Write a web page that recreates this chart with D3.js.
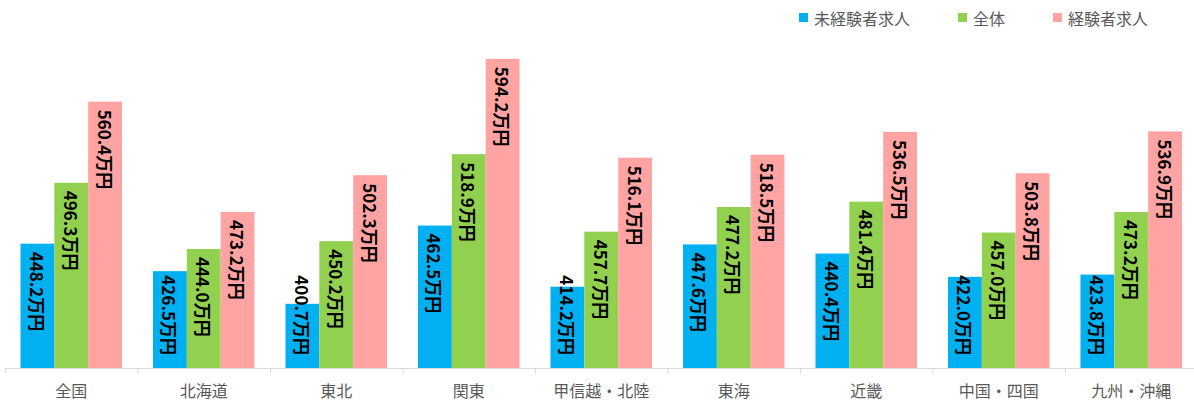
<!DOCTYPE html>
<html>
<head>
<meta charset="utf-8">
<script src="https://cdn.jsdelivr.net/npm/d3@7"></script>
<style>
  body { margin: 0; background: #fff; }
  svg { display: block; font-family: "Noto Sans CJK JP", "Noto Sans", sans-serif; }
</style>
</head>
<body>
<div id="chart"></div>
<script>
var categories = ["全国", "北海道", "東北", "関東", "甲信越・北陸", "東海", "近畿", "中国・四国", "九州・沖縄"];
var seriesNames = ["未経験者求人", "全体", "経験者求人"];
var inexperienced = [448.2, 426.5, 400.7, 462.5, 414.2, 447.6, 440.4, 422.0, 423.8];
var overall = [496.3, 444.0, 450.2, 518.9, 457.7, 477.2, 481.4, 457.0, 473.2];
var experienced = [560.4, 473.2, 502.3, 594.2, 516.1, 518.5, 536.5, 503.8, 536.9];
var colors = ["#00b0f0", "#92d050", "#ffa3a3"];

var width = 1194, height = 405;
var baseY = 368;

var series = [inexperienced, overall, experienced];
var data = categories.map(function(c, i) {
  return { cat: c, values: series.map(function(s, j) { return { key: seriesNames[j], idx: j, v: s[i] }; }) };
});

var x0 = d3.scaleBand().domain(categories).range([5, 1197.5]).padding(0);
var x1 = d3.scaleBand().domain(seriesNames).range([15.5, x0.bandwidth() - 15.5]).padding(0);
var y = d3.scaleLinear().domain([350, 620]).range([baseY, baseY - 270 * 1.266]);

var svg = d3.select("#chart").append("svg")
    .attr("width", width)
    .attr("height", height);

// bars
var groups = svg.selectAll("g.grp")
    .data(data)
  .enter().append("g")
    .attr("class", "grp")
    .attr("transform", function(d) { return "translate(" + x0(d.cat) + ",0)"; });

groups.selectAll("rect")
    .data(function(d) { return d.values; })
  .enter().append("rect")
    .attr("x", function(d) { return x1(d.key); })
    .attr("y", function(d) { return y(d.v); })
    .attr("width", x1.bandwidth())
    .attr("height", function(d) { return baseY - y(d.v); })
    .style("fill", function(d) { return colors[d.idx]; });

// value labels, rotated
groups.selectAll("text.val")
    .data(function(d) { return d.values; })
  .enter().append("text")
    .attr("class", "val")
    .attr("font-size", 17)
    .attr("font-weight", "bold")
    .attr("fill", "#000")
    .attr("dominant-baseline", "central")
    .text(function(d) { return d.v.toFixed(1) + "万円"; })
    .each(function(d) {
      var len = this.getComputedTextLength();
      var start = Math.min(y(d.v) + 8, baseY - 13 - len);
      var cx = x1(d.key) + x1.bandwidth() / 2;
      d3.select(this).attr("transform", "translate(" + cx + "," + start + ") rotate(90)");
    });

// x axis
var axis = svg.append("g")
    .attr("transform", "translate(0," + baseY + ")")
    .call(d3.axisBottom(x0).tickSize(0).tickPadding(18));
axis.select(".domain").attr("stroke", "#d9d9d9").attr("d", "M5,0.5H1194");
axis.selectAll("text")
    .attr("font-size", 16)
    .attr("fill", "#595959")
    .style("font-family", "'Noto Sans CJK JP', sans-serif");

// boundary ticks
svg.append("g").selectAll("line")
    .data(categories)
  .enter().append("line")
    .attr("x1", function(d) { return x0(d) + 0.5; })
    .attr("x2", function(d) { return x0(d) + 0.5; })
    .attr("y1", baseY)
    .attr("y2", baseY + 5)
    .attr("stroke", "#d9d9d9");

// legend
var legendX = [799, 958, 1053];
var legend = svg.append("g").selectAll("g")
    .data(seriesNames)
  .enter().append("g")
    .attr("transform", function(d, i) { return "translate(" + legendX[i] + ",0)"; });
legend.append("rect")
    .attr("x", 0).attr("y", 13)
    .attr("width", 9).attr("height", 9)
    .style("fill", function(d, i) { return colors[i]; });
legend.append("text")
    .attr("x", 15).attr("y", 17.5)
    .attr("dominant-baseline", "central")
    .attr("font-size", 16)
    .attr("fill", "#595959")
    .text(function(d) { return d; });
</script>
</body>
</html>
